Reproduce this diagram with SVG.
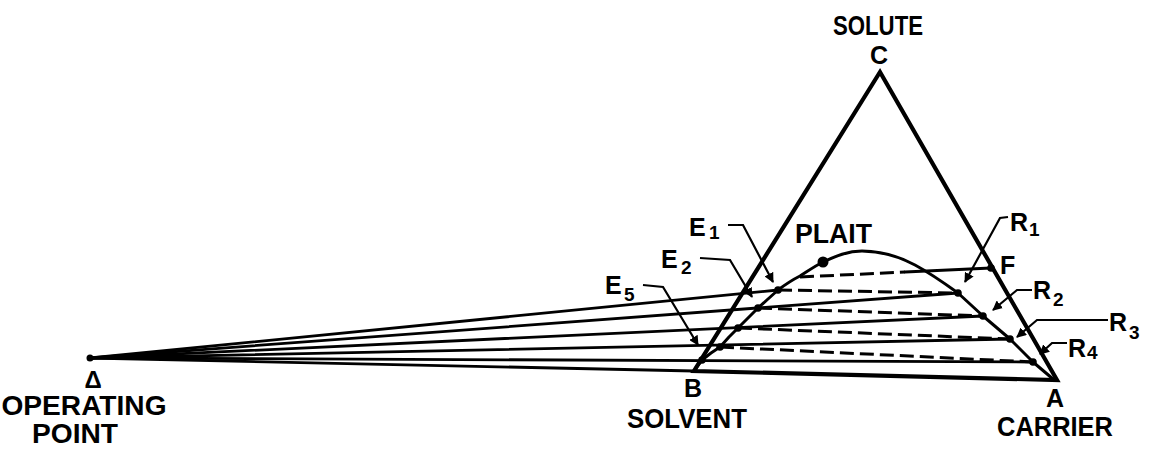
<svg xmlns="http://www.w3.org/2000/svg" width="1150" height="455" viewBox="0 0 1150 455">
<defs>
<marker id="ah" viewBox="0 0 10 10" refX="9" refY="5" markerWidth="4.5" markerHeight="4.5" orient="auto" markerUnits="strokeWidth">
<path d="M0,0 L10,5 L0,10 z" fill="#000"/>
</marker>
<style>
.lbl{font-family:"Liberation Sans",Arial,Helvetica,sans-serif;font-weight:bold;fill:#000}
.big{font-size:27px}
.let{font-size:25px}
.sub{font-size:19px}
.side{fill:none;stroke:#000;stroke-width:4.2;stroke-linejoin:miter;stroke-linecap:round}
.bin{fill:none;stroke:#000;stroke-width:3;stroke-linejoin:round;stroke-linecap:round}
.op{fill:none;stroke:#000;stroke-width:2.8;stroke-linecap:round}
.tie{fill:none;stroke:#000;stroke-width:3;stroke-dasharray:14 6}
.ldr{fill:none;stroke:#000;stroke-width:2.2;marker-end:url(#ah)}
.dot{fill:#000}
</style>
</defs>
<rect width="1150" height="455" fill="#fff"/>

<g id="connectors">
<path class="op" d="M90,358 L778,290"/>
<path class="op" d="M90,358 L958,293"/>
<path class="op" d="M90,358 L983,316"/>
<path class="op" d="M90,358 L1010,339"/>
<path class="op" d="M90,358 L1033,362"/>
<path class="op" d="M90,358 L694,371"/>
<path class="tie" d="M778,290 L958,293"/>
<path class="tie" d="M758,308 L983,316"/>
<path class="tie" d="M738,328 L1010,339"/>
<path class="tie" d="M720,347 L1033,362"/>
<path class="tie" d="M800,277 L905,272"/>
<path class="op" d="M905,272 L991,268" style="stroke-width:3"/>
<path class="ldr" d="M728,225 L743,225 L773,282"/>
<path class="ldr" d="M700,258 L730,260 L752,297"/>
<path class="ldr" d="M643,285 L663,287 L698,345"/>
<path class="ldr" d="M1008,217 L1000,218 L965,282"/>
<path class="ldr" d="M1032,290 L1017,290 L993,310"/>
<path class="ldr" d="M1108,320 L1037,320 L1017,337"/>
<path class="ldr" d="M1067,343 L1052,343 L1040,354"/>
</g>

<g id="triangle">
<path class="side" d="M880,72 L694,371 L1057,380 Z"/>
</g>

<g id="binodal">
<path class="bin" d="M696,368 L702,360 L711,353 L720,347 L729,337 L738,328 L748,318 L758,308 L768,299 L778,290 C786,284 794,279 800,276 C808,271 815,266 823,262 C836,256 848,251 862,251 C880,251 900,257 915,265 C928,272 940,280 958,293 L983,316 L1010,339 L1033,362 L1053,379"/>
</g>

<g id="delta-point">
<circle cx="90" cy="358" r="3.5" class="dot"/>
<text class="lbl" x="93" y="388" text-anchor="middle" style="font-size:24px">Δ</text>
<text class="lbl big" x="84" y="415" text-anchor="middle" textLength="165" lengthAdjust="spacingAndGlyphs">OPERATING</text>
<text class="lbl big" x="75" y="443" text-anchor="middle" textLength="86" lengthAdjust="spacingAndGlyphs">POINT</text>
</g>

<g id="node-C">
<text class="lbl big" x="878" y="35" text-anchor="middle" textLength="90" lengthAdjust="spacingAndGlyphs">SOLUTE</text>
<text class="lbl let" x="879" y="64" text-anchor="middle">C</text>
</g>

<g id="node-B">
<text class="lbl let" x="693" y="397" text-anchor="middle">B</text>
<text class="lbl big" x="687" y="428" text-anchor="middle" textLength="120" lengthAdjust="spacingAndGlyphs">SOLVENT</text>
</g>

<g id="node-A">
<text class="lbl let" x="1055" y="407" text-anchor="middle">A</text>
<text class="lbl big" x="1055" y="436" text-anchor="middle" textLength="116" lengthAdjust="spacingAndGlyphs">CARRIER</text>
</g>

<g id="plait">
<circle cx="823" cy="262" r="5.5" class="dot"/>
<text class="lbl big" x="795" y="243" textLength="77" lengthAdjust="spacingAndGlyphs">PLAIT</text>
</g>

<g id="node-F">
<circle cx="991" cy="268" r="3.8" class="dot"/>
<text class="lbl let" x="1000" y="274">F</text>
</g>

<g id="node-E1"><circle cx="778" cy="290" r="3.8" class="dot"/><text class="lbl let" x="689" y="236">E</text><text class="lbl sub" x="709" y="239">1</text></g>
<g id="node-E2"><circle cx="758" cy="308" r="3.8" class="dot"/><text class="lbl let" x="661" y="268">E</text><text class="lbl sub" x="681" y="274">2</text></g>
<g id="node-E3"><circle cx="738" cy="328" r="3.8" class="dot"/></g>
<g id="node-E4"><circle cx="720" cy="347" r="3.8" class="dot"/></g>
<g id="node-E5"><circle cx="702" cy="360" r="3.8" class="dot"/><text class="lbl let" x="605" y="294">E</text><text class="lbl sub" x="624" y="301">5</text></g>

<g id="node-R1"><circle cx="958" cy="293" r="3.8" class="dot"/><text class="lbl let" x="1010" y="231">R</text><text class="lbl sub" x="1029" y="236">1</text></g>
<g id="node-R2"><circle cx="983" cy="316" r="3.8" class="dot"/><text class="lbl let" x="1033" y="299">R</text><text class="lbl sub" x="1053" y="306">2</text></g>
<g id="node-R3"><circle cx="1010" cy="339" r="3.8" class="dot"/><text class="lbl let" x="1109" y="331">R</text><text class="lbl sub" x="1129" y="339">3</text></g>
<g id="node-R4"><circle cx="1033" cy="362" r="3.8" class="dot"/><text class="lbl let" x="1068" y="357">R</text><text class="lbl sub" x="1087" y="359">4</text></g>
</svg>
